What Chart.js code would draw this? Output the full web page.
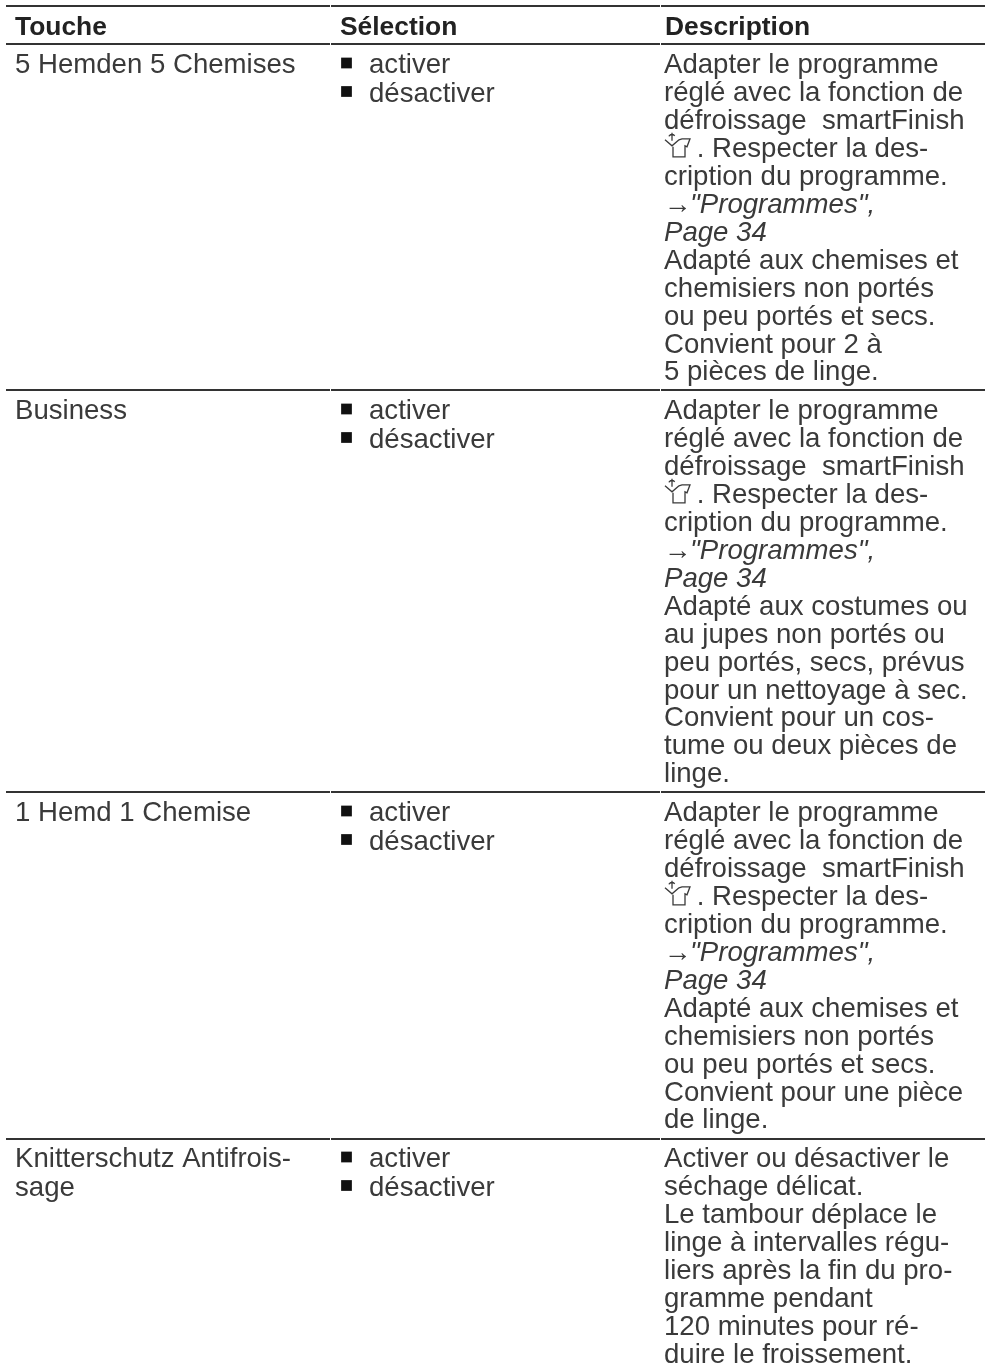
<!DOCTYPE html>
<html>
<head>
<meta charset="utf-8">
<style>
  html, body { margin: 0; padding: 0; background: #fff; }
  canvas { display: block; }
</style>
<script src="https://cdn.jsdelivr.net/npm/chart.js@4/dist/chart.umd.min.js"></script>
</head>
<body>
<canvas id="tableChart" width="985" height="1367"></canvas>
<script>
// ===== TABLE CONTENT =====
const headers = ['Touche', 'Sélection', 'Description'];
const keys = [
    ['5 Hemden 5 Chemises'],
    ['Business'],
    ['1 Hemd 1 Chemise'],
    ['Knitterschutz Antifrois-', 'sage']
];
const choices = ['activer', 'désactiver'];
const programText = [
    'Adapter le programme',
    'réglé avec la fonction de',
    'défroissage  smartFinish',
    '@ . Respecter la des-',
    'cription du programme.',
    '> "Programmes",',
    '/Page 34'
];
const descriptions = [
    [...programText,
        'Adapté aux chemises et',
        'chemisiers non portés',
        'ou peu portés et secs.',
        'Convient pour 2 à',
        '5 pièces de linge.'],
    [...programText,
        'Adapté aux costumes ou',
        'au jupes non portés ou',
        'peu portés, secs, prévus',
        'pour un nettoyage à sec.',
        'Convient pour un cos-',
        'tume ou deux pièces de',
        'linge.'],
    [...programText,
        'Adapté aux chemises et',
        'chemisiers non portés',
        'ou peu portés et secs.',
        'Convient pour une pièce',
        'de linge.'],
    ['Activer ou désactiver le',
        'séchage délicat.',
        'Le tambour déplace le',
        'linge à intervalles régu-',
        'liers après la fin du pro-',
        'gramme pendant',
        '120 minutes pour ré-',
        'duire le froissement.']
];

// Table geometry on the page scale
const ruleRows = [6, 44, 390, 792, 1139];
const rowBaselines = [73, 419, 821, 1167];
const columnEdges = [6, 330, 660, 985];
const headerText = [15, 340, 665];
const columnText = [15, 369, 664];
const lineStep = 27.95;
const shortStep = 28.5;

const textColor = '#3a3a3a';
const bodyFont = '27.6px "Liberation Sans"';

// ===== RULES & BULLETS =====
function buildRulePoints() {
    const points = [];
    ruleRows.forEach(y => {
        for (let c = 0; c < columnEdges.length - 1; c++) {
            points.push({ x: columnEdges[c] + (c ? 1 : 0), y: y });
            points.push({ x: columnEdges[c + 1], y: y });
            points.push({ x: columnEdges[c + 1], y: null });
        }
    });
    return points;
}

function buildBulletPoints() {
    const points = [];
    rowBaselines.forEach(base => {
        choices.forEach((c, i) => points.push({ x: 346.5, y: base - 10 + i * shortStep }));
    });
    return points;
}

// ===== SHIRT ICON =====
function drawShirtIcon(ctx, x, y) {
    ctx.save();
    ctx.strokeStyle = textColor;
    ctx.lineWidth = 1.3;
    ctx.beginPath();
    // sleeves and collar
    ctx.moveTo(x + 1, y + 7);
    ctx.lineTo(x + 8, y + 13);
    ctx.lineTo(x + 15, y + 7);
    ctx.moveTo(x + 15, y + 7);
    ctx.lineTo(x + 18, y + 6);
    ctx.lineTo(x + 26, y + 6);
    ctx.lineTo(x + 23, y + 14);
    ctx.lineTo(x + 21, y + 13);
    // body
    ctx.lineTo(x + 21, y + 24);
    ctx.lineTo(x + 9, y + 24);
    ctx.lineTo(x + 9, y + 14);
    // power symbol
    ctx.moveTo(x + 5, y + 2.5);
    ctx.arc(x + 8, y + 6, 4.2, -2.3, -0.85);
    ctx.moveTo(x + 8, y);
    ctx.lineTo(x + 8, y + 8);
    ctx.stroke();
    ctx.restore();
}

// ===== TEXT LAYER =====
const tableText = {
    id: 'tableText',
    afterDatasetsDraw(chart) {
        const ctx = chart.ctx;
        const xs = chart.scales.x;
        const ys = chart.scales.y;
        ctx.save();
        ctx.textBaseline = 'alphabetic';
        ctx.textAlign = 'left';
        ctx.fillStyle = '#222222';
        ctx.font = 'bold 26.4px "Liberation Sans"';
        headers.forEach((h, i) => {
            ctx.fillText(h, xs.getPixelForValue(headerText[i]), ys.getPixelForValue(35));
        });
        ctx.fillStyle = textColor;
        ctx.font = bodyFont;
        rowBaselines.forEach((base, r) => {
            keys[r].forEach((line, i) => {
                ctx.fillText(line, xs.getPixelForValue(columnText[0]), ys.getPixelForValue(base + i * shortStep));
            });
            choices.forEach((line, i) => {
                ctx.fillText(line, xs.getPixelForValue(columnText[1]), ys.getPixelForValue(base + i * shortStep));
            });
            descriptions[r].forEach((line, i) => {
                const px = xs.getPixelForValue(columnText[2]);
                const py = ys.getPixelForValue(base + i * lineStep);
                if (line[0] === '@') {
                    drawShirtIcon(ctx, px, py - 24);
                    ctx.fillText(line.slice(1), px + 25, py);
                } else if (line[0] === '>') {
                    ctx.fillText('→', px, py);
                    ctx.font = 'italic ' + bodyFont;
                    ctx.fillText(line.slice(2), px + 26, py);
                    ctx.font = bodyFont;
                } else if (line[0] === '/') {
                    ctx.font = 'italic ' + bodyFont;
                    ctx.fillText(line.slice(1), px, py);
                    ctx.font = bodyFont;
                } else {
                    ctx.fillText(line, px, py);
                }
            });
        });
        ctx.restore();
    }
};

// ===== INITIALIZE CHART =====
new Chart(document.getElementById('tableChart'), {
    type: 'scatter',
    data: {
        datasets: [{
            data: buildRulePoints(),
            showLine: true,
            spanGaps: false,
            pointRadius: 0,
            borderColor: '#333333',
            borderWidth: 2
        }, {
            data: buildBulletPoints(),
            pointStyle: 'rect',
            pointRadius: 7.6,
            pointBorderWidth: 0,
            pointBackgroundColor: '#111111'
        }]
    },
    options: {
        responsive: false,
        animation: false,
        layout: { padding: 0, autoPadding: false },
        plugins: {
            legend: { display: false },
            tooltip: { enabled: false }
        },
        scales: {
            x: { type: 'linear', min: 0, max: 985, display: false },
            y: { type: 'linear', min: 0, max: 1367, reverse: true, display: false }
        }
    },
    plugins: [tableText]
});
</script>
</body>
</html>
